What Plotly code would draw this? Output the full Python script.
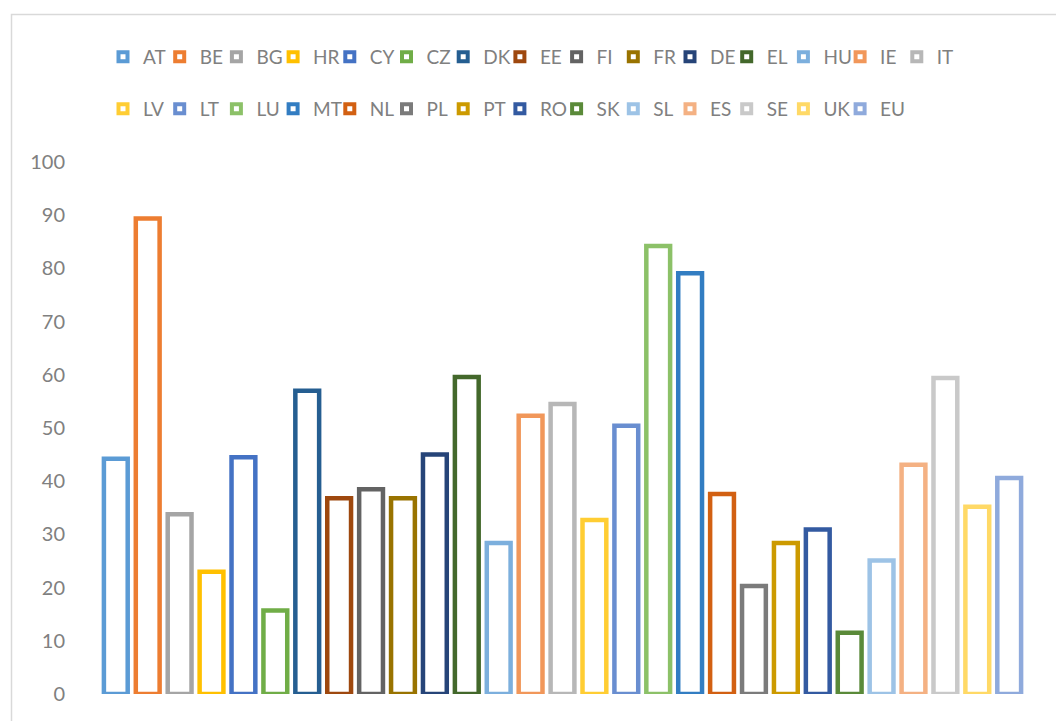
import plotly.graph_objects as go

# Member states (plus EU average), in legend order
countries = ["AT", "BE", "BG", "HR", "CY", "CZ", "DK", "EE", "FI", "FR",
             "DE", "EL", "HU", "IE", "IT", "LV", "LT", "LU", "MT", "NL",
             "PL", "PT", "RO", "SK", "SL", "ES", "SE", "UK", "EU"]

values = [44.2, 89.4, 33.8, 23.0, 44.5, 15.7, 57.0, 36.8, 38.5, 36.8,
          45.0, 59.6, 28.4, 52.3, 54.5, 32.7, 50.4, 84.2, 79.1, 37.6,
          20.3, 28.4, 30.9, 11.5, 25.1, 43.1, 59.4, 35.2, 40.6]

y_ticks = [0, 10, 20, 30, 40, 50, 60, 70, 80, 90, 100]

# Office-style series palette
colors = ["#5B9BD5", "#ED7D31", "#A5A5A5", "#FFC000", "#4472C4", "#70AD47",
          "#255E91", "#9E480E", "#636363", "#997300", "#264478", "#43682B",
          "#7CAFDD", "#F1975A", "#B7B7B7", "#FFCD33", "#698ED0", "#8CC168",
          "#327DC2", "#D26012", "#7B7B7B", "#CC9A00", "#335AA1", "#5A8A39",
          "#9DC3E6", "#F4B183", "#C9C9C9", "#FFD966", "#8FAADC"]

FIRST_ROW = 15  # entries shown in the upper legend row
TEXT_FONT = dict(family="Lato", size=19, color="#808080")

fig = go.Figure()
for i, (name, val, col) in enumerate(zip(countries, values, colors)):
    # outlined column
    fig.add_trace(go.Bar(
        x=[0], y=[val], name=name, legendgroup=name, showlegend=False,
        marker=dict(color="white", line=dict(color=col, width=4.5)),
        hovertemplate=name + ": %{y}<extra></extra>",
    ))
    # legend key: hollow square in the series colour
    last_in_row = (i == FIRST_ROW - 1) or (i == len(countries) - 1)
    fig.add_trace(go.Scatter(
        x=[None], y=[None], mode="markers", name=name, legendgroup=name,
        marker=dict(symbol="square", size=9, color="white",
                    line=dict(color=col, width=4)),
        legend="legend" if i < FIRST_ROW else "legend2",
        legendwidth=40 if last_in_row else None,
        hoverinfo="skip",
    ))

legend_style = dict(
    orientation="h",
    xref="container", x=103 / 1056, xanchor="left",
    yref="container", yanchor="middle",
    entrywidth=11.7, entrywidthmode="pixels",
    font=TEXT_FONT,
    bgcolor="rgba(0,0,0,0)", traceorder="normal",
)

fig.update_layout(
    width=1056, height=721,
    margin=dict(l=70, r=1, t=162, b=27),
    paper_bgcolor="white", plot_bgcolor="white",
    barmode="group", bargap=0.0606, bargroupgap=0.254,
    showlegend=True,
    legend=dict(legend_style, y=1 - 57 / 721),
    legend2=dict(legend_style, y=1 - 109 / 721),
    xaxis=dict(range=[-0.5, 0.5], showticklabels=False, showgrid=False,
               zeroline=False, showline=False, fixedrange=True),
    yaxis=dict(range=[0, 100], tickmode="array", tickvals=y_ticks,
               showgrid=False, zeroline=False, showline=False,
               tickfont=dict(TEXT_FONT, size=20),
               ticklabelstandoff=4, fixedrange=True),
    shapes=[dict(type="rect", xref="paper", yref="paper",
                 x0=(11.5 - 70) / 985, x1=1.05, y0=-0.2, y1=(694 - 14.5) / 532,
                 line=dict(color="#D9D9D9", width=1.5), layer="below")],
)

fig.write_html("out.html")
